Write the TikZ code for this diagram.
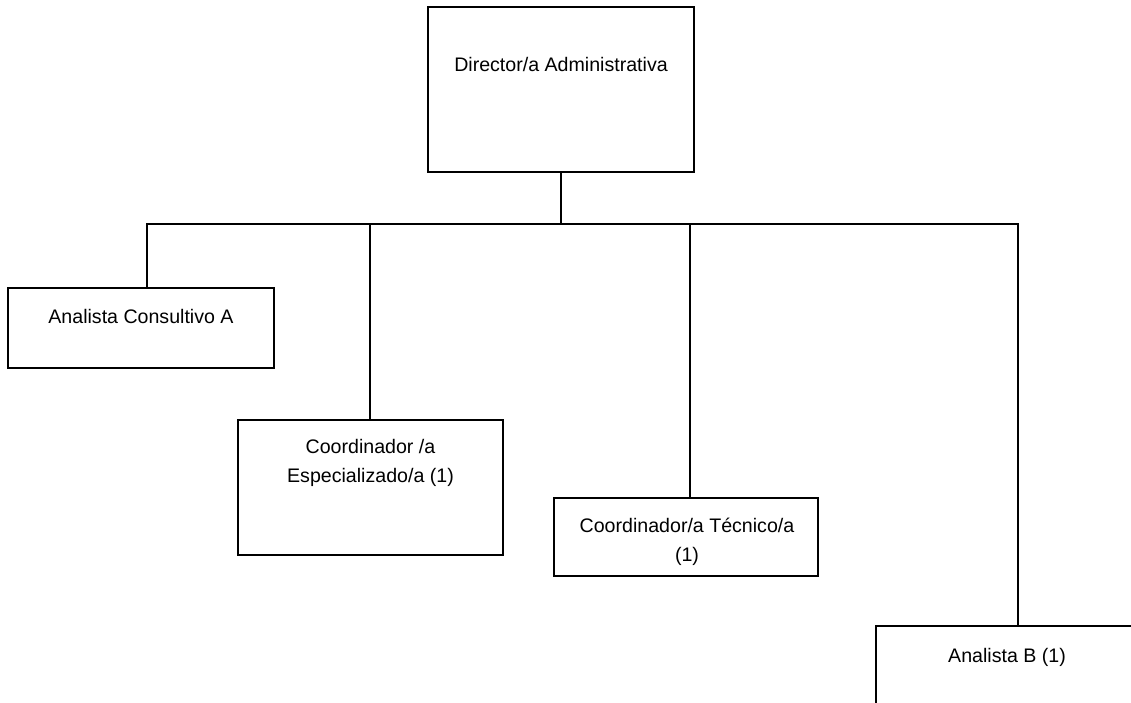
\documentclass[tikz,border=0pt]{standalone}
\usepackage{fontspec}
\setmainfont{Liberation Sans}
\begin{document}
\begin{tikzpicture}[x=1pt,y=-1pt,
  box/.style={draw,line width=2pt,rectangle,anchor=north west,inner sep=0pt,outer sep=0pt},
  txt/.style={font=\fontsize{19.6}{28.5}\selectfont,align=center,inner sep=0pt,anchor=base},
  conn/.style={line width=2pt}]
\useasboundingbox (0,0) rectangle (1131,703);
\clip (0,0) rectangle (1131,703);
\fill[white] (0,0) rectangle (1131,703);
% boxes
\node[box,minimum width=266,minimum height=165] (dir) at (428,7) {};
\node[box,minimum width=266,minimum height=80] (ac) at (8,288) {};
\node[box,minimum width=265,minimum height=135] (ce) at (238,420) {};
\node[box,minimum width=264,minimum height=78] (ct) at (554,498) {};
\node[box,minimum width=280,minimum height=120] (anb) at (876,626) {};
% texts
\node[txt] (tdir) at (561,72) {Director/a Administrativa};
\node[txt] (tac) at (141,323) {Analista Consultivo A};
\node[txt] (tce) at (370.5,482) {Coordinador /a\\Especializado/a (1)};
\node[txt] (tct) at (687,561) {Coordinador/a Técnico/a\\(1)};
\node[txt] (tanb) at (1007,662) {Analista B (1)};
% connectors
\coordinate (bus) at (561,224);
\draw[conn] ([xshift=133pt]dir.south west) -- ([xshift=133pt]dir.south west |- bus);
\draw[conn] ([xshift=139pt]ac.north west) |- (bus);
\draw[conn] ([xshift=132pt]ce.north west) -- ([xshift=132pt]ce.north west |- bus);
\draw[conn] ([xshift=136pt]ct.north west) -- ([xshift=136pt]ct.north west |- bus);
\draw[conn] ([xshift=142pt]anb.north west) |- (bus);
\end{tikzpicture}
\end{document}
